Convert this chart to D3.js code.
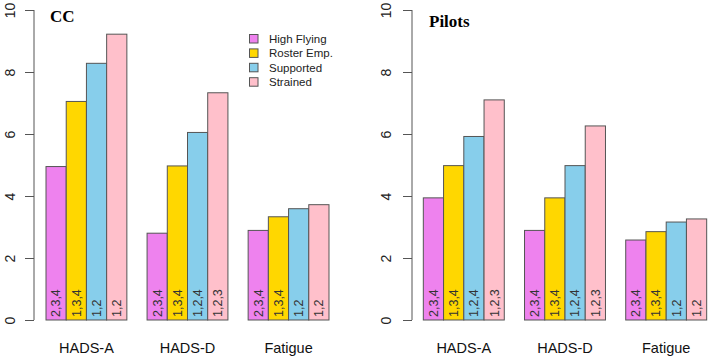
<!DOCTYPE html>
<html><head><meta charset="utf-8">
<script src="https://cdn.jsdelivr.net/npm/d3@7"></script>
<style>body{margin:0;background:#fff}svg{display:block}</style>
</head><body>
<svg id="c" width="708" height="358"></svg>
<script>
const categories = ["HADS-A", "HADS-D", "Fatigue"];
const series = ["High Flying", "Roster Emp.", "Supported", "Strained"];
const colors = ["#EE82EE", "#FFD700", "#87CEEB", "#FFC0CB"];
const yTicks = [0, 2, 4, 6, 8, 10];

const ccValues = [
  [4.95, 7.05, 8.28, 9.22],
  [2.80, 4.97, 6.05, 7.33],
  [2.89, 3.33, 3.59, 3.72]
];
const ccLabels = [
  ["2,3,4", "1,3,4", "1,2", "1,2"],
  ["2,3,4", "1,3,4", "1,2,4", "1,2,3"],
  ["2,3,4", "1,3,4", "1,2", "1,2"]
];
const pilotValues = [
  [3.94, 4.98, 5.92, 7.10],
  [2.89, 3.94, 4.98, 6.26],
  [2.58, 2.85, 3.16, 3.26]
];
const pilotLabels = [
  ["2,3,4", "1,3,4", "1,2,4", "1,2,3"],
  ["2,3,4", "1,3,4", "1,2,4", "1,2,3"],
  ["2,3,4", "1,3,4", "1,2", "1,2"]
];

const svg = d3.select("#c");
const y = d3.scaleLinear().domain([0, 10]).range([320, 10]);

function panel(opt) {
  const g = svg.append("g");
  const x0 = d3.scaleBand().domain(categories).range(opt.range).paddingInner(0.2).paddingOuter(0.1);
  const x1 = d3.scaleBand().domain(series).range([0, x0.bandwidth()]);

  const ax = g.append("g").attr("transform", `translate(${opt.axisX},0)`)
    .call(d3.axisLeft(y).tickValues(yTicks).tickSize(9).tickPadding(0).tickFormat(d3.format("d")));
  ax.select(".domain").attr("stroke", "#555").attr("d", `M-0,${y(0)}V${y(10)}`);
  ax.selectAll(".tick line").attr("stroke", "#555");
  ax.selectAll(".tick text").attr("fill", "#222").attr("font-family", "Liberation Sans, Arial, sans-serif")
    .attr("font-size", 14).attr("x", null)
    .attr("text-anchor", "middle")
    .attr("transform", `translate(${opt.labelOff},0) rotate(-90)`)
    .attr("dy", "0.35em");

  categories.forEach((c, ci) => {
    const gg = g.append("g").attr("transform", `translate(${x0(c)},0)`);
    series.forEach((s, si) => {
      const v = opt.values[ci][si];
      gg.append("rect")
        .attr("x", x1(s)).attr("y", y(v))
        .attr("width", x1.bandwidth()).attr("height", y(0) - y(v))
        .attr("fill", colors[si]).attr("stroke", "#555").attr("stroke-width", 1);
      gg.append("text")
        .attr("transform", `translate(${x1(s) + x1.bandwidth() / 2},${y(0) - 3}) rotate(-90)`)
        .attr("dy", "0.35em")
        .attr("font-family", "Liberation Sans, Arial, sans-serif")
        .attr("font-size", 12.5).attr("fill", "#333")
        .text(opt.labels[ci][si]);
    });
    g.append("text")
      .attr("x", x0(c) + x0.bandwidth() / 2).attr("y", 353)
      .attr("text-anchor", "middle")
      .attr("font-family", "Liberation Sans, Arial, sans-serif")
      .attr("font-size", 14.5).attr("fill", "#111")
      .text(c);
  });

  g.append("text")
    .attr("x", opt.titleX).attr("y", opt.titleY)
    .attr("font-family", "Liberation Serif, Times New Roman, serif")
    .attr("font-weight", "bold").attr("font-size", 17).attr("fill", "#000")
    .text(opt.title);
}

panel({ range: [35.9, 339.1], axisX: 34, labelOff: -24, values: ccValues, labels: ccLabels, title: "CC", titleX: 50, titleY: 22 });
panel({ range: [413.2, 716.8], axisX: 412, labelOff: -26, values: pilotValues, labels: pilotLabels, title: "Pilots", titleX: 429, titleY: 27 });

const lg = svg.append("g");
series.forEach((s, i) => {
  const cy = 39 + i * 14.4;
  lg.append("rect").attr("x", 249.5).attr("y", cy - 4.5).attr("width", 8.5).attr("height", 8.5)
    .attr("fill", colors[i]).attr("stroke", "#555");
  lg.append("text").attr("x", 269).attr("y", cy).attr("dy", "0.35em")
    .attr("font-family", "Liberation Sans, Arial, sans-serif")
    .attr("font-size", 11.5).attr("fill", "#222").text(s);
});
</script>
</body></html>
